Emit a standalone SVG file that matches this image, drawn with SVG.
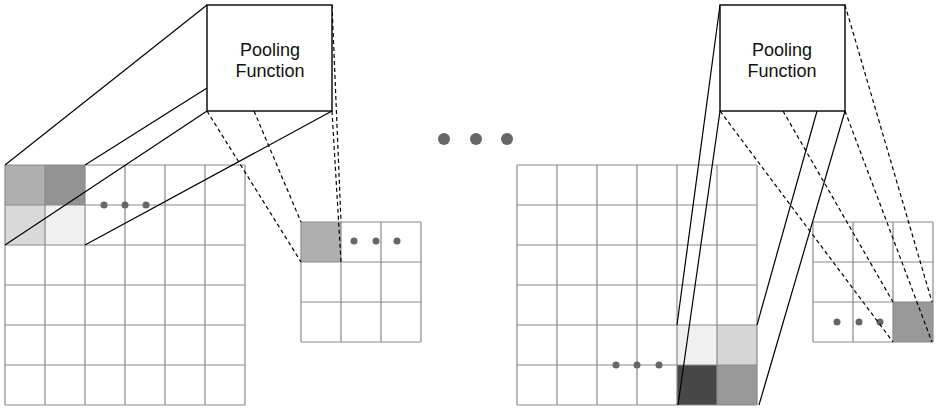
<svg xmlns="http://www.w3.org/2000/svg" width="941" height="412" viewBox="0 0 941 412">
<style>
.grid{fill:none;stroke:#8a8a8a;stroke-width:1.2}
.box{fill:#fff;stroke:#000;stroke-width:1.4}
.solid{stroke:#000;stroke-width:1.2;fill:none}
.dash{stroke:#000;stroke-width:1.2;fill:none;stroke-dasharray:4 3}
.dot{fill:#666}
.lbl{font-family:"Liberation Sans",Arial,sans-serif;font-size:18px;fill:#111;text-anchor:middle}
</style>
<rect width="941" height="412" fill="#fff"/>

<g id="left-input">
<rect x="5" y="165" width="40" height="40" fill="#b0b0b0"/>
<rect x="45" y="165" width="40" height="40" fill="#939393"/>
<rect x="5" y="205" width="40" height="40" fill="#d9d9d9"/>
<rect x="45" y="205" width="40" height="40" fill="#f0f0f0"/>
<path class="grid" d="M5 165H245M5 205H245M5 245H245M5 285H245M5 325H245M5 365H245M5 405H245M5 165V405M45 165V405M85 165V405M125 165V405M165 165V405M205 165V405M245 165V405"/>
<circle class="dot" cx="104" cy="205" r="3.5"/>
<circle class="dot" cx="125" cy="205" r="3.5"/>
<circle class="dot" cx="146" cy="205" r="3.5"/>
</g>

<g id="left-output">
<rect x="301" y="222" width="40" height="40" fill="#b0b0b0"/>
<path class="grid" d="M301 222H421M301 262H421M301 302H421M301 342H421M301 222V342M341 222V342M381 222V342M421 222V342"/>
<circle class="dot" cx="354" cy="241" r="3.5"/>
<circle class="dot" cx="376" cy="241" r="3.5"/>
<circle class="dot" cx="397" cy="241" r="3.5"/>
</g>

<g id="right-input">
<rect x="677" y="325" width="40" height="40" fill="#f0f0f0"/>
<rect x="717" y="325" width="40" height="40" fill="#d6d6d6"/>
<rect x="677" y="365" width="40" height="40" fill="#474747"/>
<rect x="717" y="365" width="40" height="40" fill="#999999"/>
<path class="grid" d="M517 165H757M517 205H757M517 245H757M517 285H757M517 325H757M517 365H757M517 405H757M517 165V405M557 165V405M597 165V405M637 165V405M677 165V405M717 165V405M757 165V405"/>
<circle class="dot" cx="616" cy="365" r="3.5"/>
<circle class="dot" cx="637" cy="365" r="3.5"/>
<circle class="dot" cx="659" cy="365" r="3.5"/>
</g>

<g id="right-output">
<rect x="893" y="302" width="40" height="40" fill="#999999"/>
<path class="grid" d="M813 222H933M813 262H933M813 302H933M813 342H933M813 222V342M853 222V342M893 222V342M933 222V342"/>
<circle class="dot" cx="837" cy="322" r="3.5"/>
<circle class="dot" cx="859" cy="322" r="3.5"/>
<circle class="dot" cx="880" cy="322" r="3.5"/>
</g>

<g id="ellipsis">
<circle class="dot" cx="444" cy="139" r="6"/>
<circle class="dot" cx="476" cy="139" r="6"/>
<circle class="dot" cx="507" cy="139" r="6"/>
</g>

<g id="connectors">
<line class="solid" x1="5" y1="165" x2="207" y2="5"/>
<line class="solid" x1="85" y1="165" x2="207" y2="88"/>
<line class="solid" x1="5" y1="245" x2="207" y2="111"/>
<line class="solid" x1="85" y1="245" x2="332" y2="111"/>
<line class="dash" x1="207" y1="111" x2="301" y2="262"/>
<line class="dash" x1="254" y1="111" x2="301" y2="222"/>
<line class="dash" x1="332" y1="111" x2="341" y2="262"/>
<line class="dash" x1="332" y1="5" x2="341" y2="222"/>

<line class="solid" x1="720" y1="5" x2="677" y2="325"/>
<line class="solid" x1="720" y1="111" x2="678" y2="405"/>
<line class="solid" x1="817" y1="111" x2="757" y2="325"/>
<line class="solid" x1="845" y1="111" x2="759" y2="405"/>
<line class="dash" x1="720" y1="111" x2="893" y2="342"/>
<line class="dash" x1="783" y1="111" x2="893" y2="302"/>
<line class="dash" x1="845" y1="111" x2="932" y2="342"/>
<line class="dash" x1="845" y1="5" x2="932" y2="302"/>
</g>

<g id="pool-left">
<rect class="box" x="207" y="5" width="125" height="106"/>
<text class="lbl" x="270" y="56">Pooling</text>
<text class="lbl" x="270" y="77">Function</text>
</g>

<g id="pool-right">
<rect class="box" x="720" y="5" width="125" height="106"/>
<text class="lbl" x="782" y="56">Pooling</text>
<text class="lbl" x="782" y="77">Function</text>
</g>
</svg>
